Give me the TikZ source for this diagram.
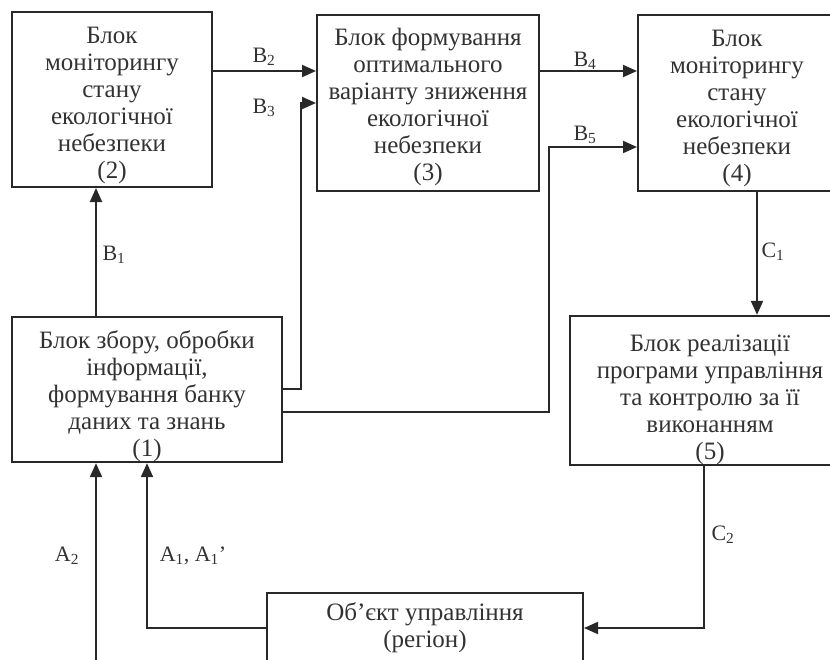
\documentclass[tikz,border=0pt]{standalone}
\usepackage{fontspec}
\setmainfont{Liberation Serif}
\usetikzlibrary{arrows.meta}
\usetikzlibrary{positioning}
\definecolor{inkline}{RGB}{40,40,40}
\definecolor{inktext}{RGB}{50,50,50}
\newcommand{\topstrut}[1]{\rule{0pt}{#1}}
\tikzset{block/.style = {draw=inkline, line width=2pt, align=center, text=inktext,
                         font=\fontsize{25}{27}\selectfont, inner sep=0pt}}
\tikzset{arr/.style = {draw=inkline, line width=2pt, -{Triangle[length=14pt,width=12pt]}},
         lbl/.style = {text=inktext, font=\fontsize{22}{24}\selectfont, inner sep=0pt}}

\begin{document}
\begin{tikzpicture}[x=1pt, y=-1pt]
		\useasboundingbox (0,0) rectangle (830,659);
		\clip (0,0) rectangle (830,659);
		
		\node[block, minimum width=200, minimum height=175] (n2) at (112,99.5)
		{\topstrut{28pt}Блок\\моніторингу\\стану\\екологічної\\небезпеки\\(2)};
		\node[block, minimum width=222, minimum height=176] (n3) at (428,103)
		{\topstrut{26pt}Блок формування\\оптимального\\варіанту зниження\\екологічної\\небезпеки\\(3)};
		\node[block, minimum width=198, minimum height=176] (n4) at (737,103)
		{\topstrut{28pt}Блок\\моніторингу\\стану\\екологічної\\небезпеки\\(4)};
		\node[block, minimum width=270, minimum height=145] (n1) at (147,389.5)
		{\topstrut{32pt}Блок збору, обробки\\інформації,\\формування банку\\даних та знань\\(1)};
		\node[block, minimum width=280, minimum height=145] (n5) at (710,390.5)
		{\topstrut{36pt}Блок реалізації\\програми управління\\та контролю за її\\виконанням\\(5)};
		\node[block, minimum width=316, minimum height=70] (n6) at (425,628)
		{Об’єкт управління\\(регіон)};
		\coordinate (a2) at (96,670);
		
		\draw[arr] ([xshift=-51pt]n1.north) coordinate (b1) -- (b1 |- n2.south);
		\draw[arr] ([yshift=28.5pt]n2.east) coordinate (b2) -- (b2 -| n3.west);
		\draw[arr] ([yshift=0.5pt]n1.east) -- ++(18,0) |- (n3.west);
		\draw[arr] ([yshift=32pt]n3.east) coordinate (b4) -- (b4 -| n4.west);
		\draw[arr] ([yshift=-22.5pt]n1.east) -- ++(266,0) |- ([yshift=-44pt]n4.west);
		\draw[arr] ([xshift=20pt]n4.south) coordinate (c1) -- (c1 |- n5.north);
		\draw[arr] ([xshift=-6pt]n5.south) |- (n6.east);
		\draw[arr] (n6.west) -| (n1.south);
		\draw[arr] (a2) -- (a2 |- n1.south);
		
		\node[lbl] (lb1) at (114,255) {B\textsubscript{1}};
		\node[lbl] (lb2) at (264,57) {B\textsubscript{2}};
		\node[lbl] (lb3) at (264,108) {B\textsubscript{3}};
		\node[lbl] (lb4) at (585,61) {B\textsubscript{4}};
		\node[lbl] (lb5) at (585,135) {B\textsubscript{5}};
		\node[lbl] (lc1) at (773,252) {C\textsubscript{1}};
		\node[lbl] (lc2) at (723,535) {C\textsubscript{2}};
		\node[lbl] (la2) at (67,556) {A\textsubscript{2}};
		\node[lbl] (la1) at (193,556) {A\textsubscript{1}, A\textsubscript{1}’};
\end{tikzpicture}
\end{document}
